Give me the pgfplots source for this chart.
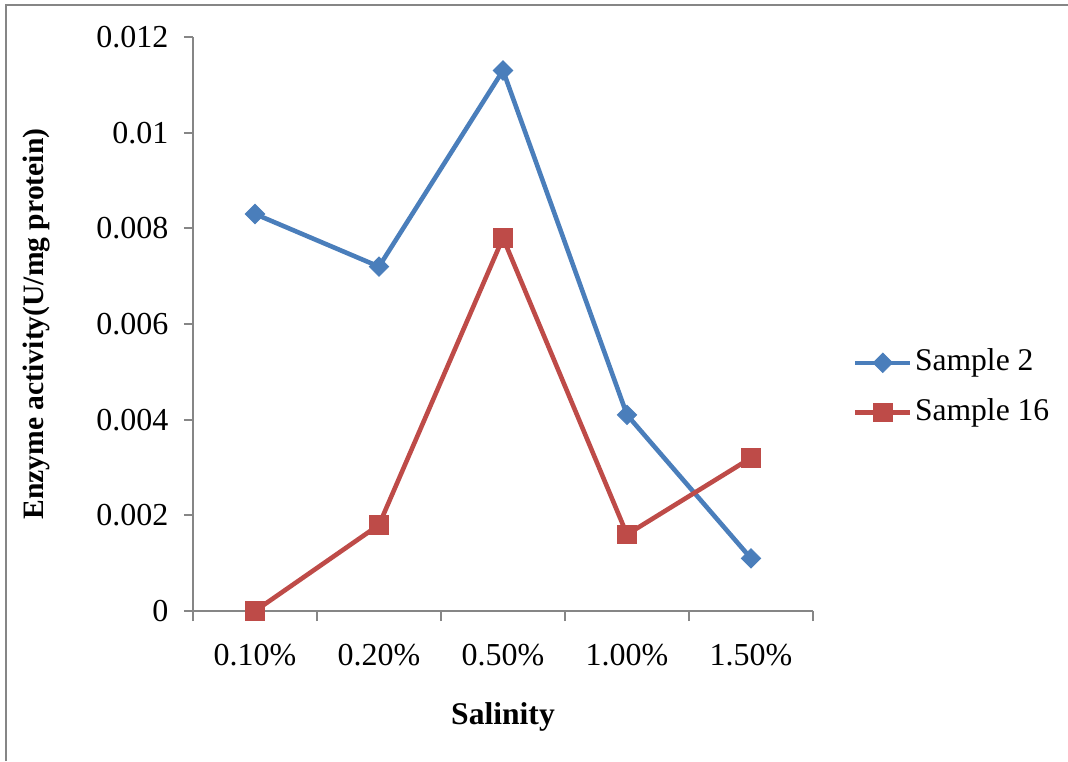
\documentclass[border=0pt]{standalone}
\usepackage{pgfplots}
\pgfplotsset{compat=1.18}
\usepackage{fontspec}
\setmainfont{Liberation Serif}
\definecolor{sblue}{HTML}{4A7EBB}
\definecolor{sred}{HTML}{BE4B48}
\definecolor{axgray}{HTML}{868686}
\begin{document}
\begin{tikzpicture}
\path[use as bounding box] (0pt,0pt) rectangle (534pt,380.5pt);
\draw[axgray, line width=1.2pt] (3pt,0pt) -- (3pt,378pt) -- (534pt,378pt);
\begin{axis}[
  at={(96.5pt,75pt)}, anchor=south west,
  scale only axis, width=310pt, height=287pt,
  xmin=-0.5, xmax=4.5, ymin=0, ymax=0.012,
  scaled y ticks=false,
  axis lines*=left,
  axis line style={draw=axgray, line width=1pt, -},
  tick align=outside,
  major tick length=4.5pt,
  minor tick length=5pt,
  xtick={0,1,2,3,4},
  xticklabels={0.10\%,0.20\%,0.50\%,1.00\%,1.50\%},
  minor xtick={-0.5,0.5,1.5,2.5,3.5,4.5},
  major x tick style={draw=none},
  minor x tick style={draw=axgray, line width=1pt},
  ytick={0,0.002,0.004,0.006,0.008,0.01,0.012},
  yticklabels={0,0.002,0.004,0.006,0.008,0.01,0.012},
  y tick style={draw=axgray, line width=1pt},
  tick label style={font=\fontsize{16}{19}\selectfont},
  x tick label style={yshift=-8.5pt},
  y tick label style={xshift=-4.3pt},
  xlabel={\textbf{Salinity}},
  ylabel={\textbf{Enzyme activity(U/mg protein)}},
  every axis x label/.style={at={(axis description cs:0.5,-0.197)}, anchor=base, font=\fontsize{15.8}{18}\selectfont},
  every axis y label/.style={at={(axis description cs:-0.253,0.5)}, anchor=center, rotate=90, font=\fontsize{14.8}{17}\selectfont},
  legend cell align=left,
  legend style={draw=none, fill=none, at={(axis description cs:1.0645,0.389)}, anchor=west,
    inner sep=0pt, outer sep=0pt, row sep=8pt,
    nodes={inner sep=1.2pt, text height=11pt, text depth=3.5pt},
    font=\fontsize{15.8}{18}\selectfont},
  legend image code/.code={\draw[mark repeat=2,mark phase=2,#1] plot coordinates {(0pt,0pt) (13.75pt,0pt) (27.5pt,0pt)};},
  clip=false,
]
\addplot[sblue, line width=2.3pt, mark=square*, mark size=3.4pt, mark options={rotate=45, solid, fill=sblue, line width=0.5pt}]
  coordinates {(0,0.0083) (1,0.0072) (2,0.0113) (3,0.0041) (4,0.0011)};
\addlegendentry{Sample 2}
\addplot[sred, line width=2.3pt, mark=square*, mark size=4.6pt, mark options={solid, fill=sred, line width=0.5pt}]
  coordinates {(0,0) (1,0.0018) (2,0.0078) (3,0.0016) (4,0.0032)};
\addlegendentry{Sample 16}
\end{axis}
\end{tikzpicture}
\end{document}
